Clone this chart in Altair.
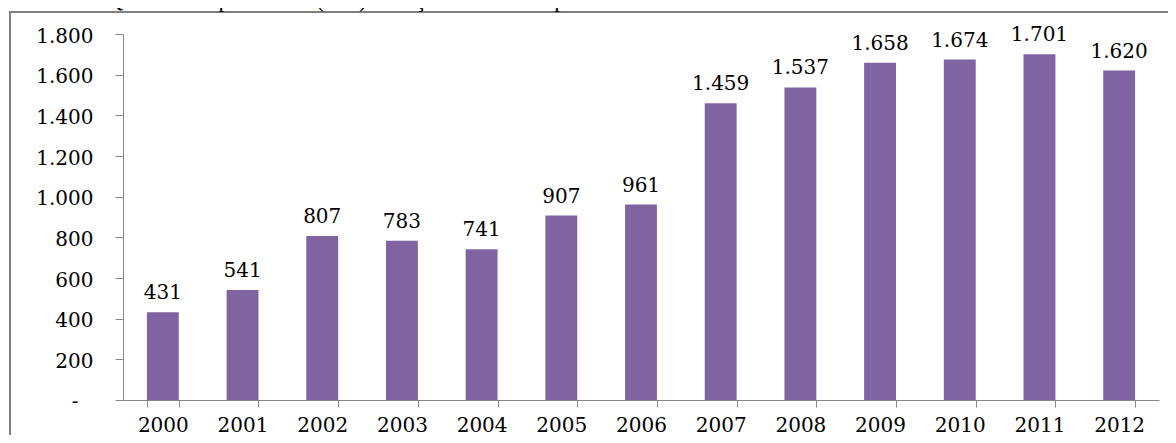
import altair as alt
import pandas as pd

years = ["2000", "2001", "2002", "2003", "2004", "2005", "2006",
         "2007", "2008", "2009", "2010", "2011", "2012"]
values = [431, 541, 807, 783, 741, 907, 961, 1459, 1537, 1658, 1674, 1701, 1620]
y_ticks = [0, 200, 400, 600, 800, 1000, 1200, 1400, 1600, 1800]
zero_label = "-"
title_text = "Gráfico 4 - Quantidade produzida (ton.) de Açaí no Acre no período de 2000 a 2012."

labels = [f"{v:,}".replace(",", ".") for v in values]
df = pd.DataFrame({"ano": years, "valor": values, "rotulo": labels})

FONT = "DejaVu Serif"
GRAY = "#868686"
PURPLE = "#8064A2"

x_enc = alt.X(
    "ano:N",
    sort=years,
    scale=alt.Scale(paddingInner=0.6, paddingOuter=0.3),
    axis=alt.Axis(
        title=None, labelAngle=0, domainColor=GRAY, tickColor=GRAY,
        tickSize=7, tickBand="extent", labelFont=FONT, labelFontSize=20,
        labelColor="black", labelPadding=8, domainWidth=1, tickWidth=1,
    ),
)
y_enc = alt.Y(
    "valor:Q",
    scale=alt.Scale(domain=[0, 1800], nice=False),
    axis=alt.Axis(
        title=None, values=y_ticks, grid=False, domainColor=GRAY,
        tickColor=GRAY, tickSize=8, labelPadding=22, labelFont=FONT,
        labelFontSize=20, labelColor="black", labelOffset=2,
        labelExpr="datum.value == 0 ? '' : replace(format(datum.value, ','), ',', '.')",
    ),
)

base = alt.Chart(df)
bars = base.mark_bar(color=PURPLE).encode(x=x_enc, y=y_enc)
text = base.mark_text(
    font=FONT, fontSize=20, dy=-13, baseline="alphabetic", color="black"
).encode(x=x_enc, y=y_enc, text="rotulo:N")

one = pd.DataFrame({"t": [title_text], "z": [zero_label], "v": [0]})
frame = alt.Chart(one).mark_rect(
    filled=False, stroke="#808080", strokeWidth=2, clip=False
).encode(
    x=alt.value(-113), x2=alt.value(1050), y=alt.value(-22), y2=alt.value(600)
)
zero = alt.Chart(one).mark_text(
    font=FONT, fontSize=20, align="center", baseline="middle", dy=2,
    color="black", clip=False
).encode(x=alt.value(-48), y=alt.Y("v:Q", scale=alt.Scale(domain=[0, 1800], nice=False)), text="z:N")
title = alt.Chart(one).mark_text(
    font="Liberation Serif", fontSize=23, align="left", baseline="alphabetic",
    color="black", clip=False
).encode(x=alt.value(-123), y=alt.value(-27), text="t:N")

chart = alt.layer(frame, bars, text, zero, title).properties(
    width=1036, height=366,
    autosize=alt.AutoSizeParams(type="none"),
    padding={"left": 115, "top": 26, "right": 9, "bottom": 35},
).configure_view(stroke=None)

chart.save("out.html", embed_options={"renderer": "svg", "actions": False})
